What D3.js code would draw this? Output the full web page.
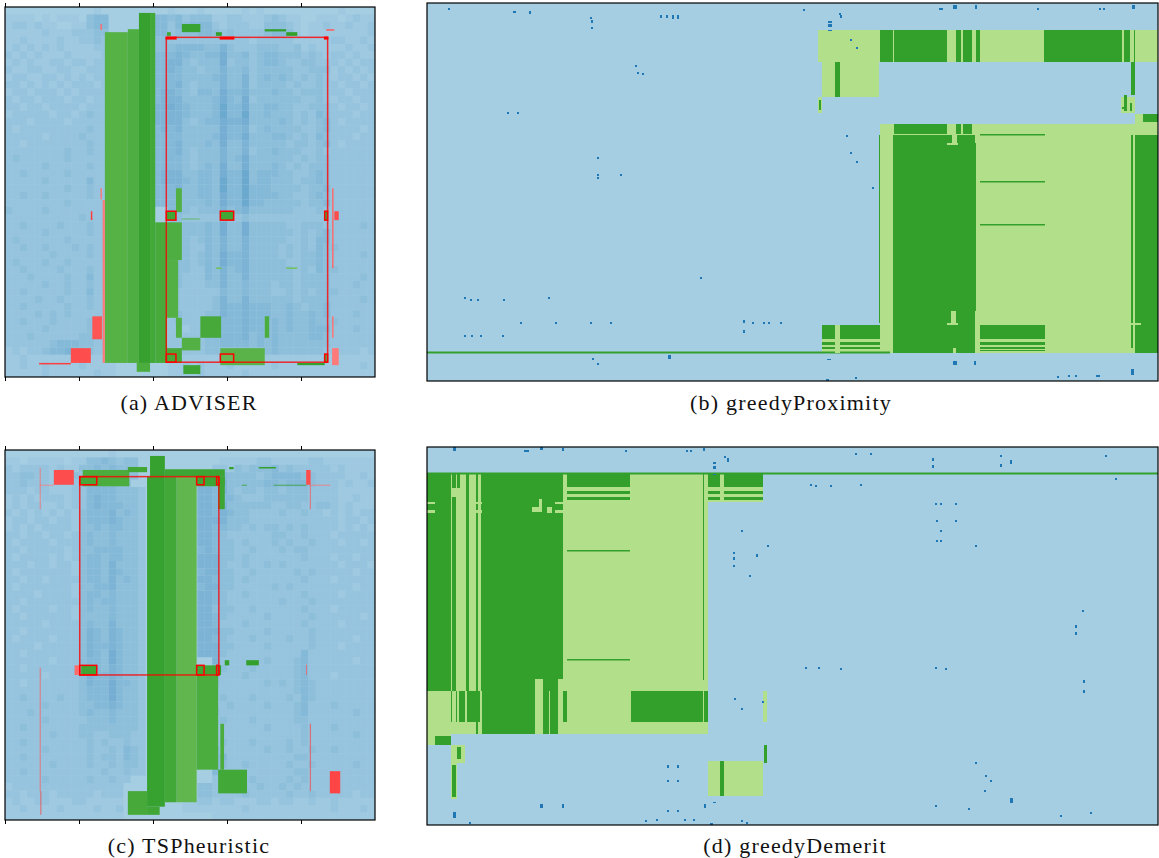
<!DOCTYPE html>
<html><head><meta charset="utf-8">
<script src="https://cdnjs.cloudflare.com/ajax/libs/d3/7.8.5/d3.min.js"></script>
<style>html,body{margin:0;background:#fff}svg{display:block}text{font-family:"Liberation Serif","DejaVu Serif",serif;fill:#111}</style>
</head><body><div id="c"></div>
<script>
// Colours of the four-class matrix plus the red highlight class.
const lightBlue="#a6cee3", darkBlue="#1f78b4", lightGreen="#b2df8a", darkGreen="#33a02c", pink="#fb9a99", red="#ff0000";
const captions=["(a) ADVISER","(b) greedyProximity","(c) TSPheuristic","(d) greedyDemerit"];
const tickValues=[0,100,200,300,400];

// Blue speckle of panels (a) and (c), read as a block average: one digit per block, 0 = no dark cells, 9 = very dense.
// Individual speckle cells cannot be read one by one from the picture, so they are summarised here rather than invented.
const blueDensityA=[
"00000000000010000000001000100000101000000000010000",
"11110101110344000000443423331122111232110011101211",
"12212110011344000000442434442122211333210112112112",
"11111211122233000000442333443232222344310111111112",
"11211112112232000000332222222222212222211111221121",
"12121212111122000000333444433532223332231211112112",
"21212111211112000000444543344633423443332321221211",
"12121122122122000000445532333623323443223322212122",
"21122112211222000000445433233533423333322333121212",
"12211221212122000000444433334533523434323232122121",
"22121212122212000000444532333533523333232232212212",
"12212221212222000000455432443644533343323332221222",
"21221222122122000000455533334643623333332232122122",
"22122122221222000000556543334744633443322333212212",
"12222212212322000000555543334744733433323243222122",
"22212222122222000000555532344655633334323234212222",
"21222222222322000000454533333644523433332234222212",
"22222122223222000000444433334644633344323243222122",
"22122222222322000000444533343633533333233234212222",
"22222222322322000000444532333533523343332232222222",
"23222222322222000000444432333534633333323233222222",
"22222322222322000000444432343633633343232333222222",
"22322222322222000000455533443644734443322343222222",
"22222322222422000000455543443744734433323343222222",
"22222222322322000000444533443744744433332334222222",
"22322322222322000000444433443644744443322343222222",
"22222222322222000000444433343644744333332334222222",
"32222322222222000000004432333534533333322232222222",
"22222222223222000000003322222322322222222222222222",
"22322223222322000000004333343633633333223332222232",
"22222322222322000000003333343633633333323234222222",
"23222222322222000000003332343533533333223244222222",
"22322322232322000000003332243533533332323243322222",
"22222232222322000000003332343644533332323343222232",
"23222322322222000000003332343644533333223343222222",
"22322223222322000000003332243534533333323243322222",
"22232222322422000000003322243533533333323333222232",
"22222322322322000000002322233533433323323333222322",
"22322222322422000000003222222433433322323233322222",
"22223223222322000000002222223533533333323333222232",
"22322222322322000000003222223544544433432334222222",
"22223232322222000000002322233544544433433434222322",
"22322232222322000000002322233444544343433433322222",
"22222322222322000000002212243444544343433444222322",
"22232222223322000000002222233444534343333443222222",
"22222234443322000000002222233444434343333333222222",
"12122344543322000000002222233333333343333332222212",
"11211111111111000000001111111111111111111111111111",
"11211211112111100000001121211121111121111111111121",
"11111211111121100000001111211111211111111111111111"];
const blueDensityC=[
"00000000000000100000000000000000000000000000000000",
"11011111011334323300000000000111112211111221111111",
"21222212113343433300000000002213233342322222121111",
"22332212132344433300000000333433332344443322221121",
"22322211123344433000000000443533333443444322212112",
"22212211122444433320000000554532332332333222211111",
"12121222122454433320000000554443222333333222211211",
"12122112122454443320000000554533333322332233212111",
"21212121213444534320000000554543322223223221212122",
"12212212213444543320000000555533322222222222212212",
"12121222213343443320000000554433232332323222212121",
"22122122123433433320000000554322222233223222122222",
"21222212223433433320000000554332322232322322212212",
"22122222123344443320000000454332232223233222222222",
"21222212123443443320000000555332322222223222122122",
"22212212213443533320000000555322322323222222212221",
"21222222213443543320000000455332232222232322222122",
"22122122223443534320000000554332322222223222122222",
"21222222213344533320000000455332222232322222222122",
"22221222213443433320000000554322322222223222212222",
"22122222223434433320000000554322222223222322222222",
"21222212213433433320000000553332232222223222122222",
"22122222213333433320000000554322222322222322222212",
"22222122223433533320000000554222322222223222212222",
"22122222223543543320000000555332222322222322222222",
"21222212223543543320000000554322232222322322222122",
"22221222223544543320000000555332222322222322212222",
"22122222223543643320000000555322222222224222222222",
"22222212223443643320000000005222222322234222222122",
"22122222223443543320000000004322232222234222222222",
"22222122223544543320000000004222322222234222122222",
"22122222223544644320000000003222222323234322222222",
"22222222223444643320000000002222222222234322222222",
"22322223223444643320000000002322232222324322222222",
"22222322223344543320000000002232222322234222322222",
"22232222223433433320000000003222222222234222222322",
"22222322222333433320000000002322232222233222222222",
"22322222223333333320000000002222222322223222322222",
"22222232223322333220000000002222222222223222222322",
"22322222222323223220000000002322232222323222222222",
"22222322222322324320000000004222222322322322322222",
"22322222222323324320000000004422222222233222222222",
"22222232222322323320000000004322322222322322222322",
"22322222222223223220000000004222222222233222222222",
"22222322222322322000000000002222232222323222322222",
"12222222222222220000000000332322223223232222222222",
"22122212222212220000000000332222322222322322222122",
"12112211122111110000000011221221112212211211211111",
"11211112111121120000000011111111211111111111211121",
"11111111111111110000000000001111111111111111111111"];

// Green regions of panel (a): x0,y0,x1,y1 in matrix units and the share of light-green cells.
const greenA=[
[135,34,166,481,.28],[166,30,181,481,.22],[181,8,196,481,.02],[196,8,203,481,.12],[178,481,196,493,.2],
[203,291,219,481,.16],[219,291,239,342,.22],[219,342,234,420,.25],[231,245,239,277,.25],[231,420,239,447,.25],
[239,447,264,464,.25],[264,418,292,447,.15],[351,418,357,447,.2],[219,461,239,481,.15],[291,461,351,484,.3],
[241,484,264,496,.08],[239,23,264,34,.05],[285,34,293,39,0],[380,34,395,39,0],[351,30,380,33,0],[219,34,224,39,.1],
[219,276,231,288,.1],[291,276,309,288,.1],[432,276,436,288,.1],[291,469,309,480,.4],[432,469,436,480,.2],
[395,481,432,484,0],[239,286,263,287,.3],[285,352,293,354,.5],[380,352,395,354,.5]];
// Red regions of panel (a): x0,y0,x1,y1 and the share of strong red cells.
const redA=[
[89,461,116,481,.5],[118,418,131,449,.45],[132,261,135,481,.2],[116,276,118,288,.6],[46,481,89,483,.6],[129,23,131,31,.3],
[129,245,131,260,.2],[442,245,444,353,.3],[442,418,444,447,.25],[442,461,451,484,.2],[445,276,451,288,.5],[434,30,445,32,.4]];
const boxesA=[[218,41,436,480,.8],[218,276,231,288,1],[291,276,309,288,1],[432,276,436,288,1],[218,469,231,480,1],[291,469,309,480,1],[432,469,436,480,1],[218,41,231,43,1],[291,41,309,43,1],[432,41,436,43,1]];

// Green and red regions and boxes of panel (c).
const greenC=[
[192,36,216,482,.03],[216,36,232,476,.12],[232,36,259,476,.36],[259,304,288,432,.2],[259,291,288,304,.1],[291,370,296,432,.2],
[196,8,216,36,.02],[216,26,297,36,.08],[259,36,297,49,.08],[288,36,297,80,.08],[105,27,168,49,.2],[166,23,192,30,.1],
[288,432,327,464,.12],[166,461,192,493,.15],[192,482,209,493,.1],[297,284,303,291,0],[326,284,343,291,0],[288,291,292,304,0],
[101,36,124,47,.15],[103,291,124,304,.1],[363,47,407,48,0],[343,23,366,25,0],[303,23,309,26,0],[320,47,327,48,0]];
const redC=[
[66,27,93,47,.5],[47,24,48,80,.3],[47,47,66,48,.2],[407,27,413,47,.5],[412,47,413,80,.45],[407,290,408,304,.4],[412,370,413,461,.6],
[439,434,453,464,.55],[413,47,440,48,.25],[47,294,48,461,.4],[48,461,49,493,.6],[94,291,101,304,.3]];
const boxesC=[[101,36,289,304,.8],[101,36,124,47,1],[259,36,269,47,1],[286,36,289,47,1],[101,291,124,304,1],[259,291,269,304,1],[286,291,289,304,1]];

// Panel (b): light-green regions, dark-green regions on top of them, light cuts, then isolated dark-blue cells (x,y,w,h).
const lightB=[[453,121,708,350],[708,111,731,350],[391,27,731,59],[395,59,452,94],[391,94,395,110],[694,94,708,110],[395,322,453,350]];
const darkB=[
[453,27,466,59],[467,27,520,59],[529,27,534,59],[536,27,545,59],[549,27,553,59],[617,27,695,59],[697,27,703,59],[707,27,708,59],
[408,59,413,94],[704,59,708,92],[392,97,394,107],[697,92,700,108],[703,100,705,108],[695,104,699,106],
[467,121,520,131],[529,121,534,131],[536,121,545,131],[466,132,525,140],[530,132,548,140],[466,140,549,350],
[708,132,731,350],[704,132,706,345],[452,132,453,320],[553,131,618,132.5],[553,178,618,179.5],[553,221,618,222.5],
[395,322,453,336],[395,339,453,342],[395,344,453,346],[553,322,618,336],[553,339,618,342],[553,344,618,346],[553,347,618,348],
[716,111,731,119],[0,348.5,463,350.5]];
const cutB=[[520,140,531,142],[524,308,529,320],[520,320,531,322],[526,345,529,350],[548,308,550,350],[408,322,413,350],[703,320,714,322]];
const blueB=[[376,6,2,2],[412,10,2,2],[413,12,2,3],[401,18,4,2],[401,21,4,3],[401,27,4,1],[423,36,2,2],[429,44,2,2],[419,132,2,2],[423,149,2,2],[429,158,2,2],[445,184,2,2],
[512,5,4,2],[526,2,4,4],[548,2,2,4],[610,5,2,2],[672,5,2,2],[676,5,2,2],[705,2,3,4],[21,5,2,2],[86,8,3,2],[102,8,2,3],[163,14,2,2],[164,17,2,3],[164,24,2,2],
[233,12,2,3],[239,12,2,3],[245,12,2,4],[250,12,2,4],[208,62,2,2],[210,69,2,2],[215,70,2,2],[80,109,2,2],[90,109,2,2],[170,154,2,2],[170,171,2,2],[170,174,2,2],[193,171,2,2],
[37,294,2,2],[43,296,2,2],[50,296,2,2],[76,296,2,2],[121,294,2,2],[273,274,2,2],[316,317,2,3],[316,327,2,3],[163,319,2,2],[183,319,2,2],[128,319,2,2],[93,319,2,2],
[37,332,2,2],[44,332,2,2],[53,332,2,2],[75,332,2,2],[325,319,2,2],[336,319,2,2],[341,319,2,2],[353,319,2,2],
[400,356,4,1],[526,358,4,4],[547,358,2,4],[704,366,3,6],[241,352,3,4],[165,355,2,2],[170,360,2,2],[428,374,2,2],[630,373,2,2],[641,372,2,2],[648,372,2,2],[669,372,4,2],[399,376,3,2]];

// Panel (d): the same four layers.
const lightD=[[0,27,281,287],[281,27,336,55],[336,244,340,275],[0,287,24,298],[24,298,38,316],[24,316,30,352],[281,314,336,349]];
const darkD=[
[0,27,24,244],[25,27,29,41],[25,50,29,244],[30,27,33,41],[39,27,42,244],[49,27,51,244],[54,27,136,232],[54,232,108,244],[116,232,131,244],
[55,244,108,287],[116,244,122,287],[123,244,131,287],[136,244,140,275],[140,27,203,40],[140,44,203,47],[140,50,203,53],[140,103,203,104.5],[140,212,203,213.5],
[204,244,276,275],[277,244,281,275],[276,27,277,233],[281,27,293,40],[297,27,336,40],[281,44,293,47],[297,44,336,47],[281,50,293,53],[297,50,336,53],
[24,244,25,275],[29,244,30,275],[32,244,38,275],[40,244,53,275],[49,275,51,287],[8,289,24,298],[30,300,34,312],[25,318,29,350],[293,314,297,349],[337,298,340,316],[0,25.5,731,27.5]];
const cutD=[[0,55,8,57],[0,63,8,66],[105,60,115,65],[112,52,115,60],[120,60,125,66],[47,55,55,57],[47,63,55,66],[128,55,136,57],[128,63,136,66]];
const blueD=[[26,0,3,4],[97,3,5,2],[113,0,3,3],[135,1,2,3],[198,3,2,2],[259,3,2,2],[263,3,2,2],[276,1,2,3],[297,9,2,2],[300,11,2,4],[286,15,3,2],[286,19,3,3],[286,27,3,1],
[314,83,2,2],[340,98,2,2],[306,105,2,2],[306,110,2,3],[329,107,2,3],[306,118,2,2],[322,128,2,2],[307,251,2,2],[314,261,2,2],[335,254,2,2],[240,318,2,3],[250,318,2,3],[240,333,2,2],[250,333,2,2],
[113,357,3,4],[135,357,2,4],[26,365,3,6],[277,357,2,4],[286,355,3,1],[240,363,2,2],[250,363,2,2],[218,373,2,2],[229,372,2,2],[257,372,2,2],[266,372,2,2],[283,376,3,2],[314,373,2,2],[319,375,2,2],[42,375,2,2],
[383,37,2,2],[388,38,2,2],[403,38,2,2],[433,37,2,2],[508,56,2,2],[513,56,2,2],[528,56,2,2],[509,73,2,2],[513,83,2,2],[528,73,2,2],[509,93,2,2],[513,93,2,2],[548,98,2,2],
[378,220,2,2],[391,220,2,2],[413,221,2,2],[508,220,2,2],[518,221,2,2],[648,178,2,3],[648,185,2,3],[655,163,2,2],[656,233,2,3],[656,243,2,3],[548,315,2,2],[558,328,2,2],[563,333,2,2],[557,343,2,2],[583,351,3,5],[508,358,2,2],[541,361,2,2],[633,368,2,2],[663,365,2,2],
[678,8,2,2],[573,8,2,2],[443,6,2,2],[428,6,2,2],[583,13,2,4],[573,17,2,3],[505,18,2,3],[505,11,2,3],[688,31,2,2]];

const width=1159,height=858;
const svg=d3.select("#c").append("svg").attr("width",width).attr("height",height);
const mix=d3.interpolateRgb(darkGreen,lightGreen), rmix=d3.interpolateRgb(pink,red), bmix=d3.interpolateRgb(lightBlue,darkBlue);
const density=d3.scaleLinear().domain([0,9]).range([0,.55]);

function frame(box,xDom,yDom){
  const g=svg.append("g");
  const x=d3.scaleLinear().domain(xDom).range([box.x0,box.x1]);
  const y=d3.scaleLinear().domain(yDom).range([box.y0,box.y1]);
  g.append("rect").attr("x",box.x0).attr("y",box.y0).attr("width",box.x1-box.x0).attr("height",box.y1-box.y0).attr("fill",lightBlue);
  return {g,x,y};
}
function rects(p,rows,colour){
  p.g.append("g").selectAll("rect").data(rows).join("rect")
   .attr("x",d=>p.x(d[0])).attr("y",d=>p.y(d[1]))
   .attr("width",d=>Math.max(.6,p.x(d[2])-p.x(d[0]))).attr("height",d=>Math.max(.6,p.y(d[3])-p.y(d[1])))
   .attr("fill",colour);
}
function speckGrid(p,rows){
  const cells=[]; rows.forEach((s,r)=>[...s].forEach((c,k)=>{ if(+c>0) cells.push([k*10,r*10,k*10+10,r*10+10,+c]); }));
  rects(p,cells,d=>bmix(density(d[4])));
}
function boxes(p,rows){
  p.g.append("g").selectAll("rect").data(rows).join("rect")
   .attr("x",d=>p.x(d[0])).attr("y",d=>p.y(d[1])).attr("width",d=>p.x(d[2])-p.x(d[0])).attr("height",d=>p.y(d[3])-p.y(d[1]))
   .attr("fill","none").attr("stroke",red).attr("stroke-width",1.5).attr("stroke-opacity",d=>d[4]);
}
function border(box,withTicks,p){
  p.g.append("rect").attr("x",box.x0).attr("y",box.y0).attr("width",box.x1-box.x0).attr("height",box.y1-box.y0).attr("fill","none").attr("stroke","#000").attr("stroke-width",1.2);
  if(withTicks){
    const b=d3.axisBottom(p.x).tickValues(tickValues).tickSize(4).tickFormat("");
    const t=d3.axisTop(p.x).tickValues(tickValues).tickSize(4).tickFormat("");
    p.g.append("g").attr("transform",`translate(0,${box.y1})`).call(b).call(a=>a.select(".domain").remove());
    p.g.append("g").attr("transform",`translate(0,${box.y0})`).call(t).call(a=>a.select(".domain").remove());
  }
}
function caption(cap,cx,cy){
  svg.append("text").attr("x",cx).attr("y",cy).attr("text-anchor","middle").attr("font-size",22).attr("letter-spacing",1.2).text(cap);
}
function speckPanel(box,dens,green,redr,box2,cap,cx,cy){
  const p=frame(box,[0,500],[0,500]);
  speckGrid(p,dens);
  rects(p,green,d=>mix(d[4]));
  rects(p,redr,d=>rmix(d[4]));
  boxes(p,box2);
  border(box,true,p);
  caption(cap,cx,cy);
}
function blockPanel(box,light,dark,cut,blue,cap,cx,cy){
  const p=frame(box,[0,731],[0,378]);
  rects(p,light,lightGreen);
  rects(p,dark,darkGreen);
  rects(p,cut,lightGreen);
  rects(p,blue.map(d=>[d[0],d[1],d[0]+d[2],d[1]+d[3]]),darkBlue);
  border(box,false,p);
  caption(cap,cx,cy);
}
speckPanel({x0:5,x1:375,y0:7,y1:377},blueDensityA,greenA,redA,boxesA,captions[0],189,410);
blockPanel({x0:427,x1:1158,y0:3,y1:381},lightB,darkB,cutB,blueB,captions[1],791,410);
speckPanel({x0:5,x1:375,y0:450,y1:820},blueDensityC,greenC,redC,boxesC,captions[2],189,853);
blockPanel({x0:427,x1:1158,y0:447,y1:825},lightD,darkD,cutD,blueD,captions[3],795,853);
</script></body></html>
